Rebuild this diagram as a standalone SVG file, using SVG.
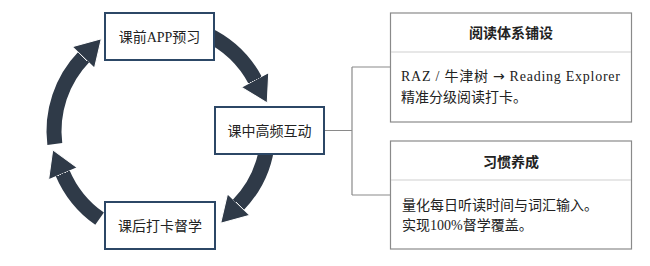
<svg xmlns="http://www.w3.org/2000/svg" width="650" height="266" viewBox="0 0 650 266">
  <style>
    .arc { fill: none; stroke: #2f3a48; stroke-width: 15; }
    .step rect { fill: #ffffff; stroke: #2c4766; stroke-width: 2; }
    .step text { font-family: "Liberation Serif", "Noto Sans CJK SC", serif; font-size: 14px; fill: #222; text-anchor: middle; }
    .card rect { fill: #ffffff; stroke: #8a8a8a; stroke-width: 1.2; }
    .card .div { stroke: #cfcfcf; stroke-width: 1; }
    .card .hd { font-family: "Liberation Serif", "Noto Sans CJK SC", serif; font-size: 14px; font-weight: bold; fill: #222; text-anchor: middle; }
    .card .bd { font-family: "Liberation Serif", "Noto Sans CJK SC", serif; font-size: 14px; fill: #222; }
    .arw { font-family: "DejaVu Sans", sans-serif; }
    .link { fill: none; stroke: #8a8a8a; stroke-width: 1.2; }
  </style>
  <defs>
    <marker id="head" markerUnits="userSpaceOnUse" markerWidth="27" markerHeight="33" viewBox="0 -1 27 33" refX="1" refY="15.5" orient="auto">
      <path d="M0,0 L26,15.5 L0,31 Z" fill="#2f3a48" stroke="#ffffff" stroke-width="1"/>
    </marker>
  </defs>
  <rect width="650" height="266" fill="#ffffff"/>
  <g id="connectors">
    <path class="arc" d="M206.2,34.0 A107,107 0 0 1 255.5,80.8" marker-end="url(#head)"/>
    <path class="arc" d="M267.6,140.3 A107,107 0 0 1 238.0,205.3" marker-end="url(#head)"/>
    <path class="arc" d="M54.8,144.0 A107,107 0 0 1 84.0,56.7" marker-end="url(#head)"/>
    <path class="arc" d="M99.6,218.7 A107,107 0 0 1 62.5,172.8" marker-end="url(#head)"/>
    <path class="link" d="M324,130.5 H352 M352,67 V195 M352,67 H390 M352,195 H390"/>
  </g>
  <g id="node-preview" class="step">
    <rect x="105" y="13" width="109" height="47"/>
    <text x="159.5" y="41.5">课前APP预习</text>
  </g>
  <g id="node-interact" class="step">
    <rect x="215" y="107" width="109" height="47"/>
    <text x="269.5" y="135.5">课中高频互动</text>
  </g>
  <g id="node-checkin" class="step">
    <rect x="105" y="202" width="110" height="47"/>
    <text x="160" y="230.5">课后打卡督学</text>
  </g>
  <g id="card-reading" class="card">
    <rect x="390.5" y="13" width="241" height="109"/>
    <line class="div" x1="391" y1="52" x2="631" y2="52"/>
    <text class="hd" x="511" y="38">阅读体系铺设</text>
    <text class="bd" x="401" y="81" textLength="219" lengthAdjust="spacing">RAZ / 牛津树 <tspan class="arw">→</tspan> Reading Explorer</text>
    <text class="bd" x="401" y="101.5">精准分级阅读打卡。</text>
  </g>
  <g id="card-habit" class="card">
    <rect x="390.5" y="141" width="241" height="108"/>
    <line class="div" x1="391" y1="180" x2="631" y2="180"/>
    <text class="hd" x="511" y="166.5">习惯养成</text>
    <text class="bd" x="402" y="209.5">量化每日听读时间与词汇输入。</text>
    <text class="bd" x="402" y="229.5">实现100%督学覆盖。</text>
  </g>
</svg>
